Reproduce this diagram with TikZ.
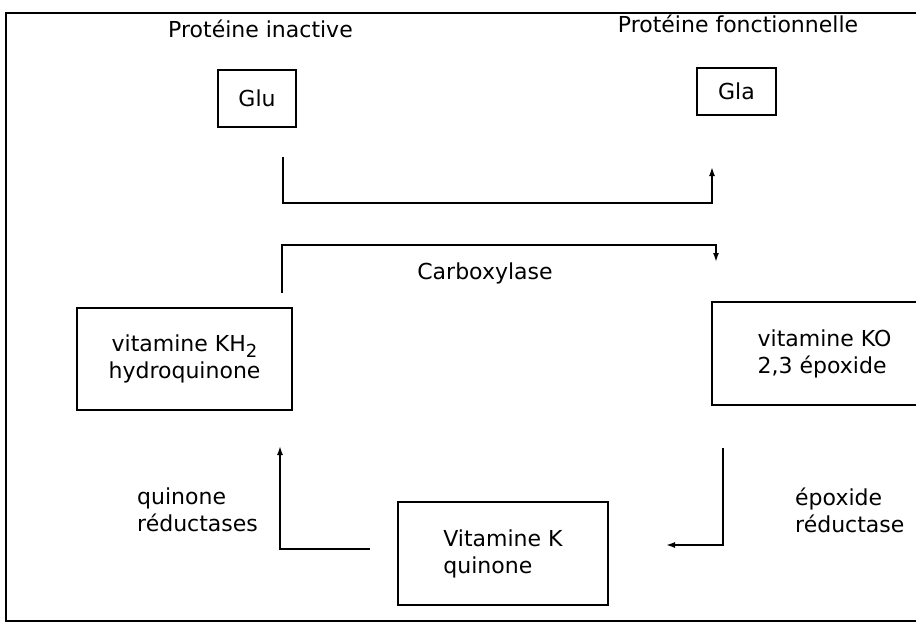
\documentclass[tikz,border=0pt]{standalone}
\usepackage{fontspec}
\setmainfont{DejaVu Sans}
\usetikzlibrary{arrows.meta}
\tikzset{
  box/.style={draw, line width=1.6pt, inner sep=0pt, align=center},
  lbl/.style={inner sep=0pt},
  flow/.style={line width=1.6pt, -{Latex[length=9pt,width=6pt]}},
}
\newcommand{\subtwo}{\raisebox{-6pt}{\fontsize{18}{18}\selectfont 2}}
\begin{document}
\begin{tikzpicture}[x=1pt,y=-1pt,font=\fontsize{22}{27}\selectfont]
\useasboundingbox (0,0) rectangle (916,624);
\clip (0,0) rectangle (916,624);
\draw[line width=1.8pt] (930,13) -- (6,13) -- (6,621) -- (930,621);

% titles
\node[lbl, anchor=base] (tin) at (260.5,37) {Protéine inactive};
\node[lbl, anchor=base] (tfn) at (738,32) {Protéine fonctionnelle};

% boxes
\node[box, minimum width=78pt, minimum height=57pt] (glu) at (257,98.5) {Glu};
\node[box, minimum width=79pt, minimum height=47pt] (gla) at (736.5,91.5) {Gla};
\node[box, minimum width=215pt, minimum height=102pt] (kh2) at (184.5,359) {vitamine KH\subtwo\\hydroquinone};
\node[box, minimum width=225pt, minimum height=103pt, align=left] (ko) at (824.5,353.5) {vitamine KO\\2,3 époxide};
\node[box, minimum width=210pt, minimum height=103pt, align=left] (vk) at (503,553.5) {Vitamine K\\quinone};

% enzyme labels
\node[lbl, anchor=base] (carb) at (485,279) {Carboxylase};
\node[lbl, anchor=west, align=left] (qred) at (137,510) {quinone\\réductases};
\node[lbl, anchor=west, align=left] (ered) at (795,510) {époxide\\réductase};

% connector end points
\coordinate (u1) at (283,157);
\coordinate (u2) at (712,167);
\coordinate (l1) at (282,293);
\coordinate (l2) at (716,262);
\coordinate (r1) at (723,448);
\coordinate (r2) at (666,545);
\coordinate (q1) at (370,549);
\coordinate (q2) at (280,446);

% connectors
\draw[flow] (u1) -- (283,203) -| (u2);
\draw[flow] (l1) -- (282,245) -| (l2);
\draw[flow] (r1) |- (r2);
\draw[flow] (q1) -| (q2);
\end{tikzpicture}
\end{document}
